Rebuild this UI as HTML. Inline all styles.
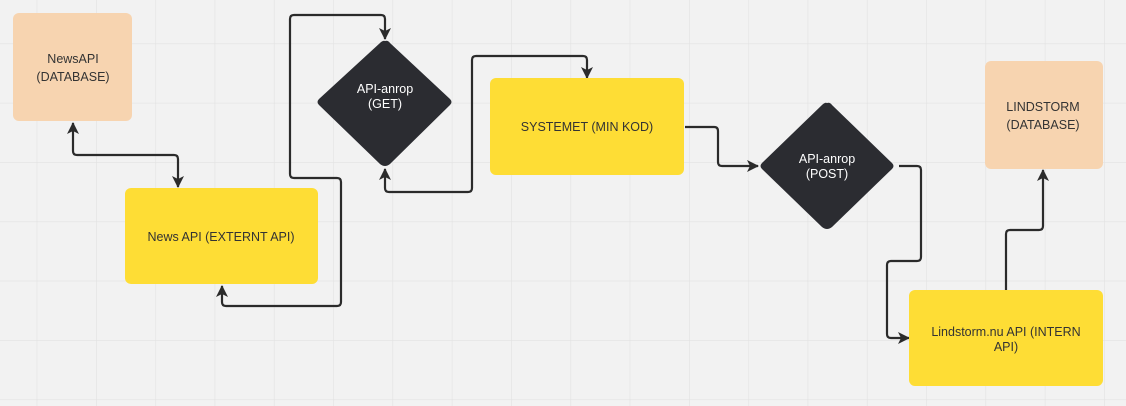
<!DOCTYPE html>
<html><head><meta charset="utf-8"><style>
html,body{margin:0;padding:0;background:#f2f2f2;}
svg{display:block;}
text{font-family:"Liberation Sans",sans-serif;font-size:12.5px;text-anchor:middle;}
</style></head><body>
<svg width="1126" height="406" viewBox="0 0 1126 406" xmlns="http://www.w3.org/2000/svg">
<defs>
<pattern id="g" x="36.7" y="43.5" width="59.3" height="59.3" patternUnits="userSpaceOnUse">
<path d="M0 0H59.3M0 0V59.3" stroke="#e2e2e2" stroke-width="1.2" fill="none"/>
</pattern>
<marker id="a" markerWidth="14" markerHeight="14" refX="11" refY="7" orient="auto-start-reverse" markerUnits="userSpaceOnUse">
<path d="M0 1L12 7L0 13L3 7Z" fill="#2b2b2b"/>
</marker>
</defs>
<rect width="1126" height="406" fill="#f2f2f2"/>
<rect width="1126" height="406" fill="url(#g)"/>
<g fill="none" stroke="#2b2b2b" stroke-width="2.2" stroke-linejoin="round">
<path d="M178 187V159Q178 155 174 155H77Q73 155 73 151V123" marker-start="url(#a)" marker-end="url(#a)"/>
<path d="M222 286V302Q222 306 226 306H337Q341 306 341 302V182Q341 178 337 178H294Q290 178 290 174V19Q290 15 294 15H381Q385 15 385 19V39" marker-start="url(#a)" marker-end="url(#a)"/>
<path d="M385 169V188Q385 192 389 192H468Q472 192 472 188V60Q472 56 476 56H583Q587 56 587 60V78" marker-start="url(#a)" marker-end="url(#a)"/>
<path d="M685 127H714Q718 127 718 131V162Q718 166 722 166H758" marker-end="url(#a)"/>
<path d="M899 166H917Q921 166 921 170V257Q921 261 917 261H891Q887 261 887 265V334Q887 338 891 338H909" marker-end="url(#a)"/>
<path d="M1006 290V234Q1006 230 1010 230H1039Q1043 230 1043 226V170" marker-end="url(#a)"/>
</g>
<rect x="13" y="13" width="119" height="108" rx="6" fill="#f7d4b0"/>
<rect x="985" y="61" width="118" height="108" rx="6" fill="#f7d4b0"/>
<rect x="125" y="188" width="193" height="96" rx="6" fill="#fedd35"/>
<rect x="490" y="78" width="194" height="97" rx="6" fill="#fedd35"/>
<rect x="909" y="290" width="194" height="96" rx="6" fill="#fedd35"/>
<path d="M385 41Q388 40 390 43L450 99Q453 102 450 105L390 164Q385 168 380 164L319 105Q316 102 319 99L380 43Q383 40 385 41Z" fill="#2b2c31"/>
<path d="M827 103Q830 102 832 105L892 163Q895 166 892 169L832 227Q827 231 822 227L762 169Q759 166 762 163L822 105Q825 102 827 103Z" fill="#2b2c31"/>
<g fill="#333">
<text x="73" y="63">NewsAPI</text><text x="73" y="81">(DATABASE)</text>
<text x="221" y="241">News API (EXTERNT API)</text>
<text x="587" y="131">SYSTEMET (MIN KOD)</text>
<text x="1043" y="111">LINDSTORM</text><text x="1043" y="129">(DATABASE)</text>
<text x="1006" y="336">Lindstorm.nu API (INTERN</text><text x="1006" y="351">API)</text>
</g>
<g fill="#fff">
<text x="385" y="93">API-anrop</text><text x="385" y="108">(GET)</text>
<text x="827" y="163">API-anrop</text><text x="827" y="178">(POST)</text>
</g>
</svg>
</body></html>
